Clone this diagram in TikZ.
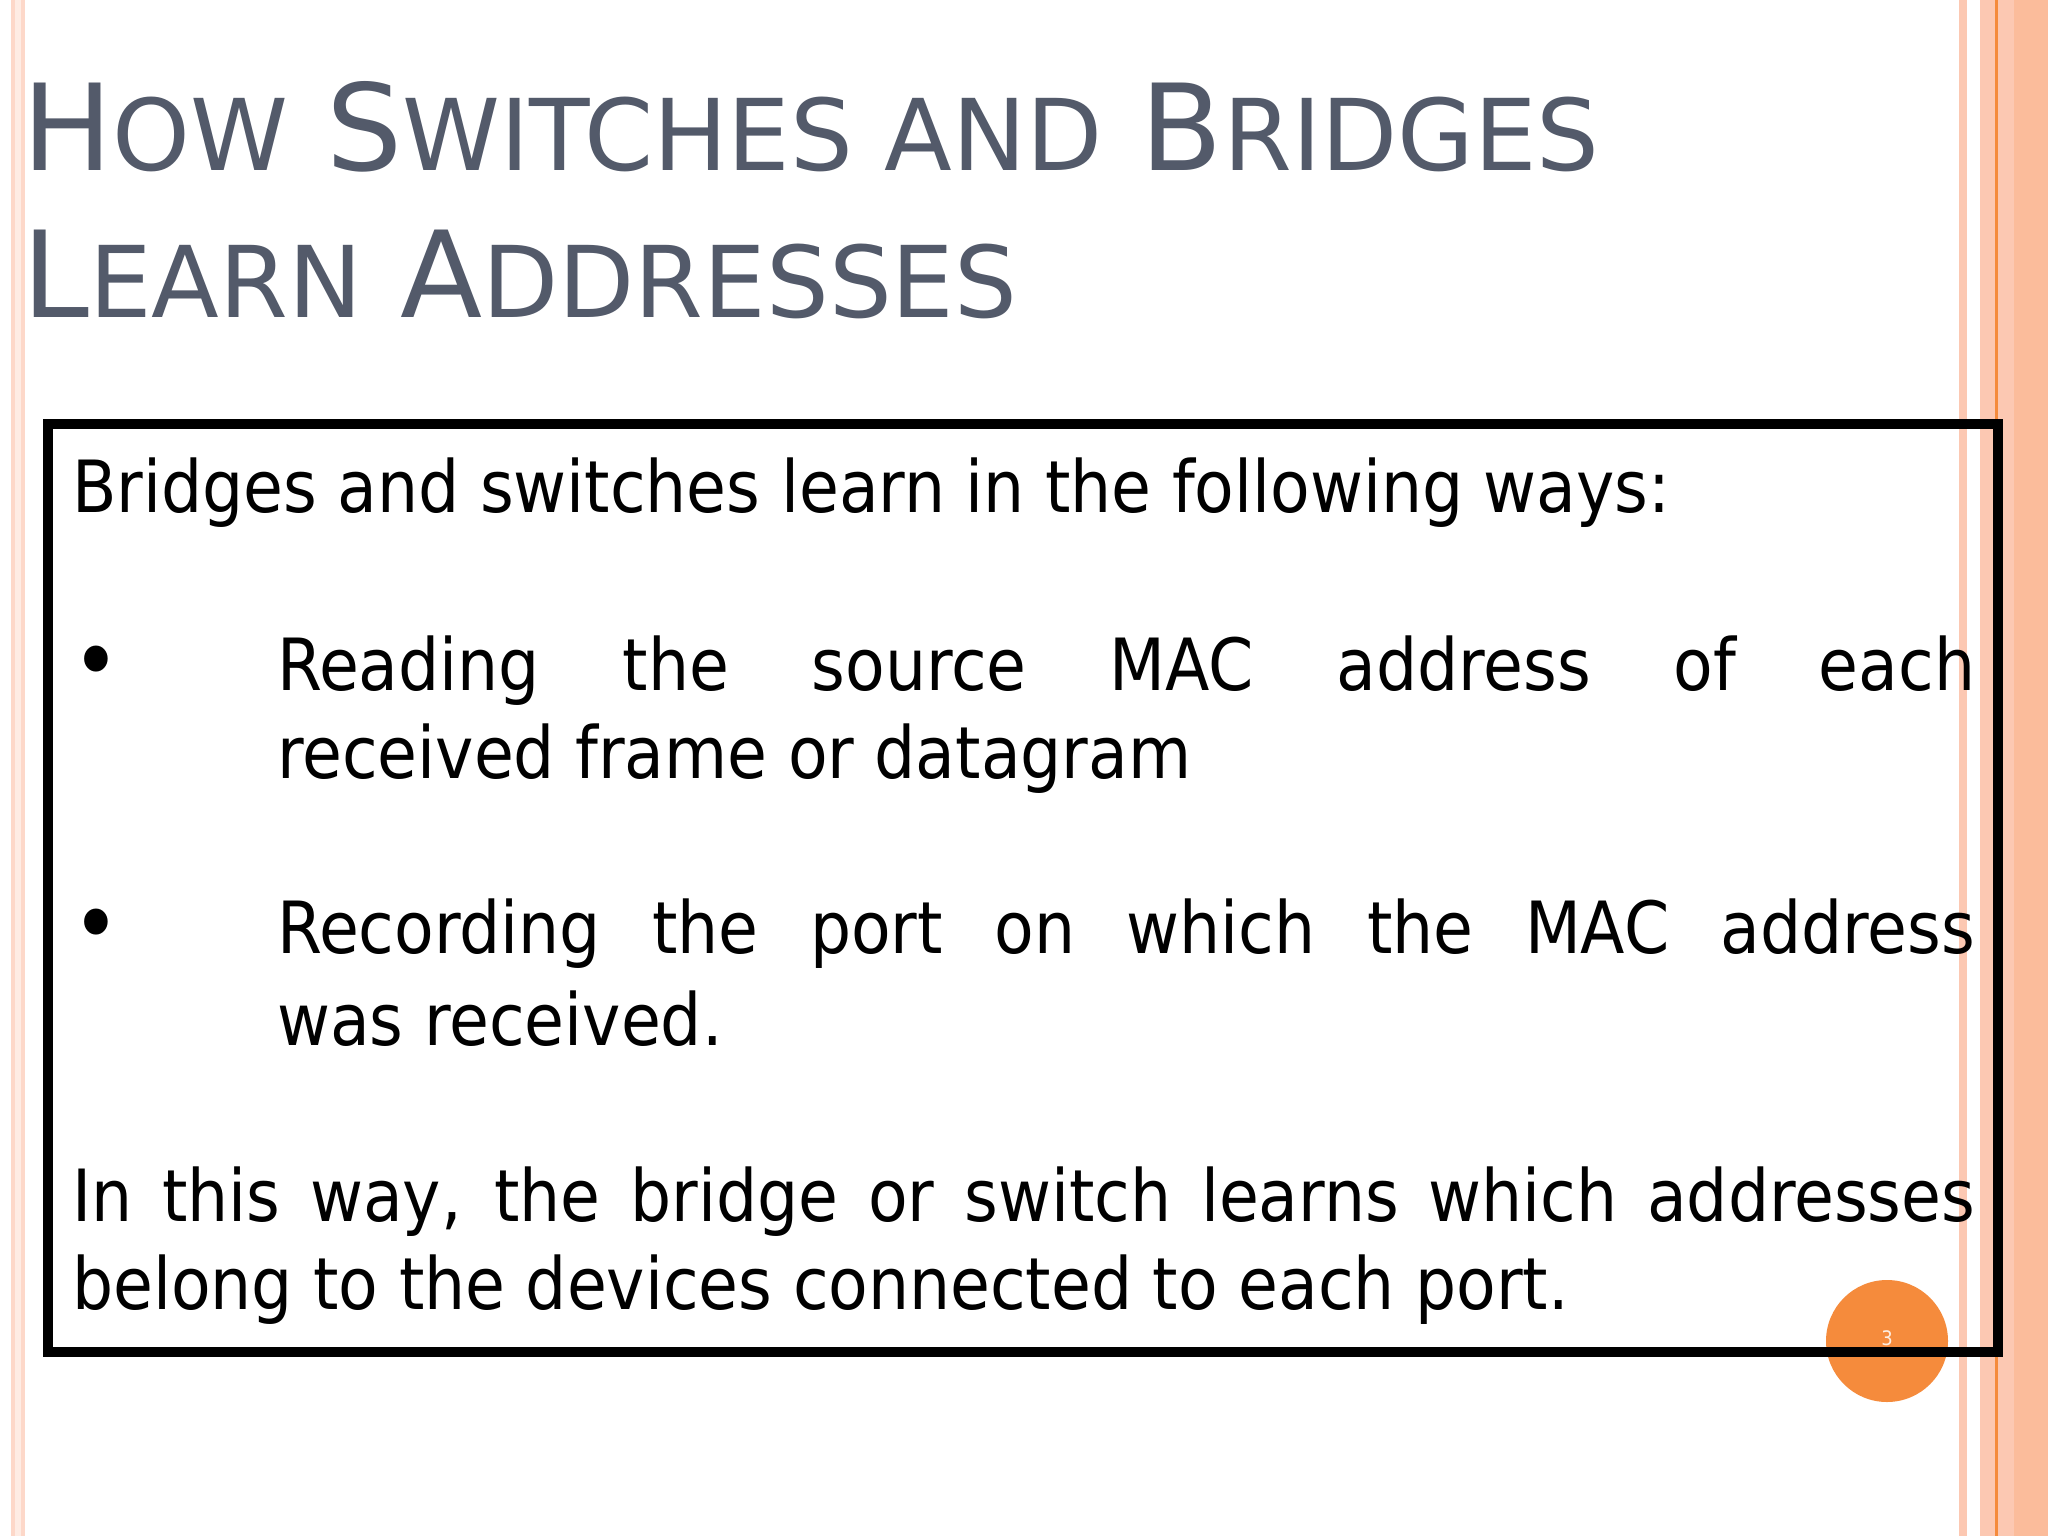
\documentclass[tikz,border=0pt]{standalone}
\usepackage{fontspec}
\setmainfont{DejaVu Sans Condensed}
\newfontfamily\titlefont{DejaVu Sans}
\definecolor{salmon}{HTML}{FCC8B2}
\definecolor{orng}{HTML}{F58B3C}
\definecolor{ttl}{HTML}{535A6A}
\begin{document}
\begin{tikzpicture}[x=1pt,y=-1pt,
  body/.style={anchor=base west,inner sep=0pt,font=\fontsize{72}{88}\selectfont},
  ttlx/.style={anchor=base west,inner sep=0pt,text=ttl,font=\titlefont\fontsize{120}{130}\selectfont}]
\useasboundingbox[fill=white] (0,0) rectangle (2048,1536);
% stripes
\fill[salmon!70] (11,0) rectangle (25,1536);
\fill[salmon!35] (15,0) rectangle (21,1536);
\fill[salmon] (1959,0) rectangle (1967,1536);
\fill[salmon] (1980,0) rectangle (2048,1536);
\fill[salmon!80!orng] (2014,0) rectangle (2048,1536);
\fill[orng] (1995,0) rectangle (1998,1536);
% title
\node[ttlx] (t1) at (22,170) {H{\fontsize{99}{110}\selectfont OW} S{\fontsize{99}{110}\selectfont WITCHES AND} B{\fontsize{99}{110}\selectfont RIDGES}};
\node[ttlx] (t2) at (22,317) {L{\fontsize{99}{110}\selectfont EARN} A{\fontsize{99}{110}\selectfont DDRESSES}};
% page number circle
\node[circle,fill=orng,minimum size=122pt,inner sep=0pt] (pg) at (1887,1341) {};
\node[text=white!85!orng,font=\fontsize{20}{22}\selectfont,inner sep=0pt] (pgn) at (1887,1338) {3};
% box
\draw[line width=10pt] (48,424) rectangle (1998,1352);
% body
\node[body] (l0) at (72,512) {Bridges and switches learn in the following ways:};
\node[body,font=\fontsize{90}{88}\selectfont] (b1) at (72,692) {•};
\node[body] (l1a) at (277,690) {\makebox[1698pt][s]{Reading the source MAC address of each}};
\node[body] (l1b) at (277,778) {received frame or datagram};
\node[body,font=\fontsize{90}{88}\selectfont] (b2) at (72,955) {•};
\node[body] (l2a) at (277,953) {\makebox[1698pt][s]{Recording the port on which the MAC address}};
\node[body] (l2b) at (277,1045) {was received.};
\node[body] (l3a) at (72,1221) {\makebox[1903pt][s]{In this way, the bridge or switch learns which addresses}};
\node[body] (l3b) at (72,1309) {belong to the devices connected to each port.};
\end{tikzpicture}
\end{document}
